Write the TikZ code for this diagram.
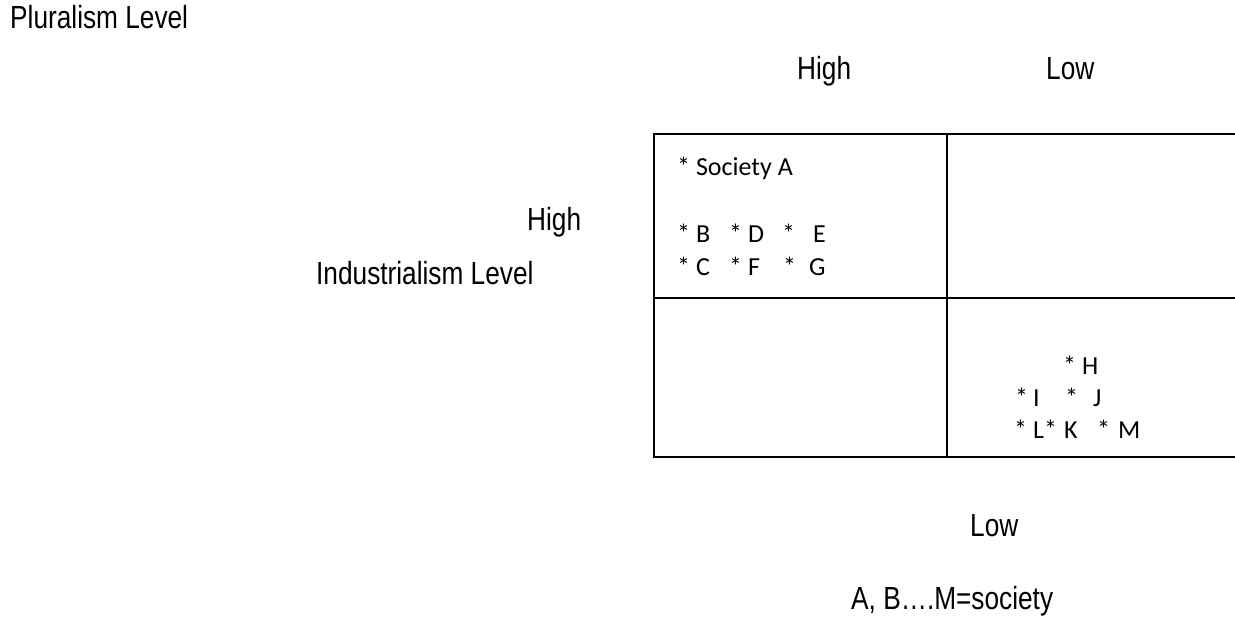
\documentclass[tikz,border=0pt]{standalone}
\usepackage{fontspec}
\setmainfont{Liberation Sans}[FakeStretch=0.82]
\newfontfamily\boxfont{Carlito}
\begin{document}
\begin{tikzpicture}[x=1pt,y=-1pt,
  lab/.style={anchor=base west,inner sep=0pt,font=\fontsize{32}{36}\selectfont},
  itm/.style={anchor=base west,inner sep=0pt,font=\boxfont\fontsize{26}{28}\selectfont},
  grid/.style={line width=2.6pt}]
\useasboundingbox (0,0) rectangle (1235,618);
% labels
\node[lab] (plur) at (10,29) {Pluralism Level};
\node[lab] (hightop) at (797,80) {High};
\node[lab] (lowtop) at (1046,80) {Low};
\node[lab] (highleft) at (527,230) {High};
\node[lab] (ind) at (316,284) {Industrialism Level};
\node[lab] (lowbot) at (970,536) {Low};
\node[lab] (legend) at (851,609) {A, B….M=society};
% grid
\coordinate (tr) at (1236,134);
\coordinate (tl) at (654,134);
\coordinate (bl) at (654,457);
\coordinate (br) at (1236,457);
\coordinate (mt) at (947,134);
\coordinate (mb) at (947,457);
\coordinate (ml) at (654,298);
\coordinate (mr) at (1236,298);
\draw[grid] (tr) -- (tl) -- (bl) -- (br);
\draw[grid] (mt) -- (mb);
\draw[grid] (ml) -- (mr);
% upper-left items
\node[itm] (sa) at (677,175) {* Society A};
\node[itm] (b) at (677,242) {* B};
\node[itm] (d) at (729,242) {* D};
\node[itm] (e1) at (782,242) {*};
\node[itm] (e2) at (813,242) {E};
\node[itm] (c) at (677,275) {* C};
\node[itm] (f) at (729,275) {* F};
\node[itm] (g1) at (783,275) {*};
\node[itm] (g2) at (809,275) {G};
% lower-right items
\node[itm] (h) at (1063,374) {* H};
\node[itm] (i1) at (1015,406) {*};
\node[itm] (i2) at (1033,406) {I};
\node[itm] (j1) at (1065,406) {*};
\node[itm] (j2) at (1093,406) {J};
\node[itm] (l1) at (1014,438) {*};
\node[itm] (l2) at (1033,438) {L*};
\node[itm] (k) at (1064,438) {K};
\node[itm] (m1) at (1097,438) {*};
\node[itm] (m2) at (1118,438) {M};
\end{tikzpicture}
\end{document}
